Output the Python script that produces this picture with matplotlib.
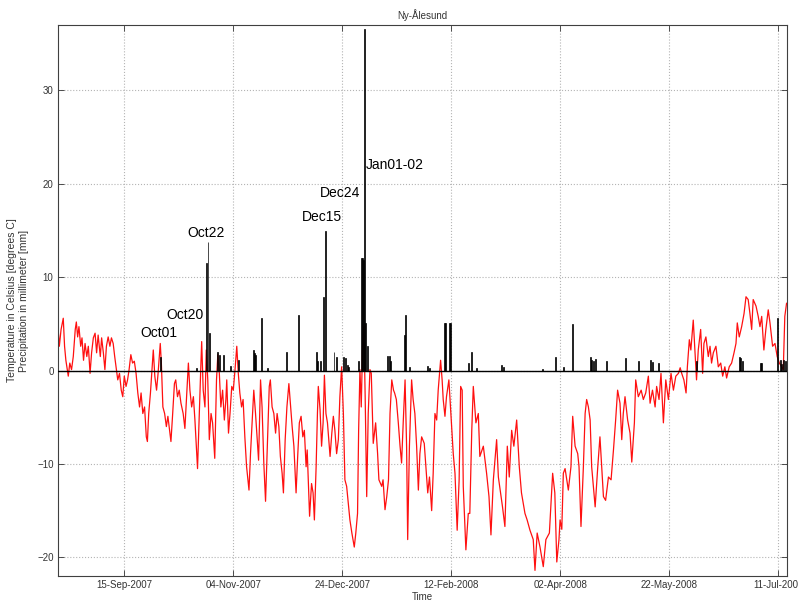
import numpy as np
import matplotlib
matplotlib.use("Agg")
import matplotlib.pyplot as plt
import matplotlib.dates as mdates

plt.rcParams['font.family'] = ['Liberation Sans', 'DejaVu Sans']

#days counted from 16-Aug-2007
start = np.datetime64('2007-08-16T00:00')

#air temperature [degrees C]
temp_day = [-0.5, 0.2, 1.0, 2.0, 2.6, 3.2, 4.3, 5.0, 5.8, 6.6, 7.5, 8.0, 8.6, 9.2, 10.0, 10.6, 11.3, 12.0,
            12.8, 13.5, 14.3, 15.0, 15.8, 16.6, 17.3, 18.0, 19.0, 19.6, 20.4, 21.1, 21.8, 22.6, 23.4, 24.1,
            24.9, 25.6, 26.3, 27.0, 27.8, 28.6, 29.3, 30.0, 30.8, 31.5, 32.2, 33.0, 33.8, 34.6, 35.4, 36.2,
            37.0, 37.7, 38.5, 39.3, 40.1, 40.6, 41.2, 42.0, 42.8, 43.3, 44.0, 44.8, 45.5, 46.5, 47.0, 47.7,
            48.5, 49.3, 50.0, 50.8, 51.4, 52.2, 53.0, 53.6, 54.4, 55.2, 56.0, 57.0, 57.8, 58.6, 59.4, 60.1,
            60.9, 61.7, 62.4, 63.2, 63.6, 64.4, 65.1, 65.5, 66.2, 67.0, 67.6, 68.3, 69.0, 69.8, 70.5, 71.5,
            72.3, 72.9, 73.6, 74.3, 75.1, 75.9, 76.6, 77.0, 77.8, 78.5, 79.3, 80.0, 80.8, 81.6, 82.3, 83.0,
            83.8, 84.5, 85.3, 86.1, 87.2, 87.9, 88.7, 89.4, 90.2, 90.9, 91.6, 92.5, 93.2, 94.0, 94.8, 95.6,
            96.5, 97.0, 97.8, 98.6, 99.4, 100.1, 100.9, 101.6, 102.4, 103.0, 103.8, 104.6, 105.5, 106.3,
            107.0, 107.8, 108.8, 109.6, 110.3, 111.1, 111.9, 112.6, 113.4, 113.9, 115.0, 115.9, 116.6,
            117.2, 118.0, 118.6, 119.0, 119.8, 120.5, 121.2, 121.8, 122.5, 123.2, 124.4, 125.2, 125.9,
            126.6, 127.4, 128.2, 128.9, 129.7, 130.5, 131.2, 132.0, 133.5, 134.4, 135.5, 136.2, 137.0,
            137.5, 138.1, 138.7, 139.3, 139.9, 140.5, 141.2, 141.9, 142.7, 143.3, 144.2, 145.3, 146.2,
            146.8, 148.1, 148.7, 149.6, 150.4, 151.2, 151.9, 152.7, 153.5, 154.0, 154.8, 155.7, 156.5,
            157.2, 158.0, 158.8, 159.5, 160.0, 160.8, 161.8, 162.5, 163.3, 164.1, 164.9, 165.6, 166.4,
            167.6, 169.2, 170.0, 171.0, 171.7, 172.5, 173.3, 174.0, 175.1, 175.8, 176.3, 177.1, 177.8,
            178.9, 179.7, 180.9, 181.7, 182.7, 183.6, 184.3, 185.0, 185.5, 186.7, 187.8, 188.5, 189.4,
            190.1, 191.3, 192.4, 193.1, 194.7, 196.2, 197.3, 198.2, 199.3, 200.8, 201.6, 202.6, 203.5,
            204.6, 205.7, 206.6, 207.7, 208.7, 210.0, 211.2, 212.2, 213.8, 214.8, 216.1, 217.6, 218.4,
            219.4, 220.7, 222.2, 223.4, 225.0, 226.5, 227.5, 228.4, 229.4, 229.9, 230.7, 231.4, 232.2,
            233.0, 233.7, 234.9, 235.7, 236.8, 238.0, 238.6, 239.5, 240.6, 241.4, 242.1, 242.9, 243.7,
            244.4, 246.0, 247.2, 248.2, 249.0, 249.8, 250.8, 252.1, 253.3, 254.4, 255.4, 256.3, 257.4,
            258.2, 258.9, 259.7, 260.9, 262.0, 262.8, 264.0, 264.6, 265.8, 267.1, 268.1, 269.2, 270.4,
            271.2, 272.3, 273.5, 274.2, 275.3, 276.2, 277.3, 278.4, 279.6, 280.8, 281.9, 283.0, 284.2,
            285.0, 285.7, 286.7, 287.7, 288.3, 289.2, 289.9, 291.0, 291.8, 292.5, 293.3, 294.4, 295.3,
            295.9, 296.8, 297.9, 298.7, 299.4, 300.2, 301.4, 302.5, 303.6, 304.5, 305.5, 306.3, 307.5,
            308.6, 309.7, 310.6, 311.2, 312.1, 313.2, 314.3, 315.2, 316.2, 317.0, 317.8, 318.5, 319.8,
            320.8, 321.6, 322.4, 323.4, 324.3, 325.4, 326.2, 327.4, 328.5, 329.5, 330.5, 331.5, 332.3,
            333.0, 333.8]
temp_c = [5.0, 2.6, 4.4, 5.6, 2.6, 1.1, -0.6, 0.8, 0.1, 1.5, 4.4, 5.2, 3.6, 4.7, 2.6, 3.5, 1.1, 2.9,
          1.5, 2.6, -0.3, 1.9, 3.5, 4.0, 1.9, 3.8, 1.5, 3.5, 1.9, 0.1, 2.6, 3.6, 2.6, 3.5,
          2.9, 1.5, 0.25, -1.0, -0.3, -2.1, -2.8, -0.6, -1.7, -1.0, 0.1, 1.7, 0.8, 1.0, -0.3, -2.4,
          -3.9, -2.4, -4.6, -3.9, -7.1, -7.6, -4.6, -2.4, 0.4, 2.2, -0.6, -2.1, -0.3, 2.9, 0.8, -3.9,
          -4.6, -6.0, -4.9, -6.4, -7.6, -4.6, -1.4, -1.0, -2.8, -2.1, -3.5, -4.6, -6.2, -2.8, 0.8, -2.1,
          -3.9, -2.8, -5.3, -8.9, -10.5, -4.6, 0.4, 3.1, -2.1, -3.9, 2.2, -1.0, -7.4, -4.6, -5.6, -9.4,
          -1.0, 1.7, -0.3, -3.9, -2.1, -5.3, -3.1, -1.0, -6.7, -4.6, -1.7, -2.1, 0.1, 2.6, -0.3, -2.4,
          -3.9, -3.1, -7.1, -10.3, -12.8, -8.9, -5.3, -2.1, -4.6, -7.1, -9.6, -1.0, -3.9, -9.9, -14.0, -8.1,
          -1.7, -1.0, -3.9, -4.6, -6.7, -4.6, -6.0, -9.2, -11.0, -13.1, -7.4, -3.9, -1.4, -3.9,
          -6.0, -8.1, -13.1, -8.9, -5.6, -4.9, -7.1, -6.4, -10.3, -8.5, -15.6, -12.1, -13.1,
          -16.0, -10.3, -4.6, -1.7, -4.2, -8.1, -5.6, -0.5, -4.6, -5.6, -9.2, -6.7, -4.9,
          -6.4, -8.9, -7.4, -2.8, 0.4, -4.6, -11.7, -12.4, -16.0, -17.4, -18.9, -17.4, -15.3,
          -6.4, 0.1, -3.9, 2.6, 4.7, -2.8, -13.5, -4.6, 0.1, -0.3, -7.8, -5.6, -8.9,
          -11.7, -12.4, -11.7, -14.9, -13.5, -11.7, -4.6, -1.0, -2.1, -2.4, -3.1, -5.6, -8.1,
          -9.9, -5.3, -1.0, -8.1, -18.1, -8.1, -1.0, -3.1, -4.6, -8.1, -12.8, -8.9, -7.1,
          -7.8, -13.1, -11.4, -15.0, -11.0, -4.6, -5.3, -2.1, 1.1, -1.0, -3.1, -4.9, -2.8,
          -1.0, -4.2, -8.9, -11.0, -17.1, -11.7, -1.7, -2.1, -12.4, -19.2, -15.3, -15.3, -6.4,
          -1.7, -5.6, -4.6, -9.2, -8.1, -11.0, -13.5, -17.6, -11.7, -7.4, -11.4, -13.1, -14.6,
          -16.7, -8.1, -11.4, -6.4, -8.1, -5.3, -10.3, -13.1, -15.3, -16.0, -17.1, -18.1, -21.4,
          -17.4, -18.9, -21.0, -18.1, -17.4, -11.0, -13.1, -20.5, -18.1, -16.0, -17.0, -11.0, -10.5,
          -11.7, -12.8, -10.3, -4.9, -8.1, -8.9, -10.3, -16.7, -10.3, -4.6, -3.1, -3.9, -5.3,
          -10.3, -14.6, -10.3, -7.1, -10.3, -13.5, -13.9, -11.4, -11.7, -8.5, -5.3, -2.1, -3.5,
          -7.4, -4.6, -2.8, -5.3, -6.7, -9.8, -5.6, -1.0, -2.8, -2.1, -3.1, -2.4, -0.6,
          -3.5, -2.1, -3.9, -1.7, -3.1, -0.3, -5.6, -1.0, -3.1, -0.3, -2.1, -0.6, -0.3,
          0.3, -0.3, -1.0, -2.4, 0.4, 3.3, 2.2, 5.4, 1.9, -1.0, 2.2, 4.4, -0.3,
          2.9, 3.6, 1.5, 2.6, 0.8, 1.9, 2.6, 0.4, 0.8, -0.6, 0.4, -0.8, 0.4,
          0.8, 1.9, 2.9, 5.1, 3.6, 4.7, 6.1, 7.9, 7.6, 6.1, 4.4, 7.6, 6.9,
          5.8, 4.7, 5.8, 2.2, 4.4, 6.5, 5.1, 2.6, 2.9, 1.5, 0.8, 0.4, 0.1,
          5.8, 7.2]

#precipitation [mm]
rain_day = [46.5, 63.0, 67.8, 68.4, 68.9, 72.8, 73.5, 75.4, 78.5, 82.3, 89.2, 89.7, 90.4, 93.0, 95.5,
            104.2, 109.8, 118.2, 118.8, 119.8, 121.6, 122.3, 126.2, 127.4, 130.5, 131.3, 132.2, 132.8,
            137.4, 138.7, 139.2, 139.7, 140.1, 140.6, 141.4, 150.9, 151.5, 152.0, 158.5, 158.9, 161.0,
            169.0, 170.2, 177.1, 177.5, 179.2, 179.7, 187.8, 189.4, 191.7, 203.1, 203.8, 222.0, 228.0,
            231.4, 235.7, 243.7, 244.3, 245.2, 246.0, 251.3, 260.1, 265.8, 271.6, 272.4, 275.0, 292.3,
            312.3, 312.8, 313.5, 322.0, 322.5, 329.5, 330.8, 331.6, 332.5, 333.2]
rain_mm = [1.5, 0.3, 11.5, 13.8, 4.0, 2.0, 1.7, 1.7, 0.5, 1.1, 2.2, 1.9, 1.7, 5.6, 0.3,
           2.0, 6.0, 2.0, 1.0, 1.0, 7.9, 14.9, 2.0, 1.5, 1.5, 1.3, 0.6, 0.4,
           1.0, 12.0, 12.0, 11.8, 36.6, 5.1, 2.6, 1.6, 1.6, 1.0, 3.8, 6.0, 0.4,
           0.5, 0.3, 5.1, 5.1, 5.1, 5.1, 0.8, 2.0, 0.3, 0.6, 0.4, 0.2, 1.5,
           0.4, 5.0, 1.5, 1.1, 1.0, 1.2, 1.0, 1.3, 1.0, 1.1, 0.9, 0.8, 1.0,
           1.5, 1.3, 1.0, 0.8, 0.8, 5.6, 1.1, 0.7, 1.1, 1.0]

#labelled precipitation events
event_text = ['Oct01', 'Oct20', 'Oct22', 'Dec15', 'Dec24', 'Jan01-02']
event_day = [45.7, 58.0, 67.7, 120.7, 128.8, 154.1]
event_mm = [3.3, 5.2, 14.0, 15.7, 18.3, 21.3]

tick_dates = ['2007-09-15', '2007-11-04', '2007-12-24', '2008-02-12', '2008-04-02', '2008-05-22', '2008-07-11']


def to_date(days):
    secs = np.round(np.asarray(days) * 86400).astype('timedelta64[s]')
    return (start + secs).astype('datetime64[s]').astype(object)


fig = plt.figure(figsize=(7.98, 6.01), dpi=100)
ax = fig.add_axes([0.0723, 0.0416, 0.9139, 0.9168])

ax.plot(to_date(temp_day), temp_c, color='#ff1010', lw=0.9, zorder=2)
ax.bar(to_date(rain_day), rain_mm, width=0.45, color='k', edgecolor='k', lw=0.5, zorder=3)
ax.axhline(0, color='k', lw=1.0, zorder=4)

for t, d, v in zip(event_text, event_day, event_mm):
    ax.text(to_date(d), v, t, ha='center', va='bottom', fontsize=10, color='k', zorder=5)

ax.set_xlim(to_date(-0.55), to_date(334.0))
ax.set_ylim(-22, 37)
ax.set_xticks([np.datetime64(d).astype(object) for d in tick_dates])
ax.xaxis.set_major_formatter(mdates.DateFormatter('%d-%b-%Y'))
ax.set_yticks([-20, -10, 0, 10, 20, 30])

ax.grid(True, ls=':', color='#b4b4b4', lw=0.8)
ax.set_axisbelow(True)
ax.tick_params(direction='in', length=4, width=0.6, labelsize=7, colors='#333333',
               top=True, right=True, pad=3)
for s in ax.spines.values():
    s.set_color('#404040')
    s.set_linewidth(0.8)

ax.set_title('Ny-Ålesund', fontsize=7, pad=4, color='#333333')
ax.set_xlabel('Time', fontsize=7, labelpad=1, color='#333333')
ax.set_ylabel('Temperature in Celsius [degrees C]\nPrecipitation in millimeter [mm]', fontsize=7.5,
              labelpad=6, color='#333333')

fig.savefig('out.png', dpi=100)
